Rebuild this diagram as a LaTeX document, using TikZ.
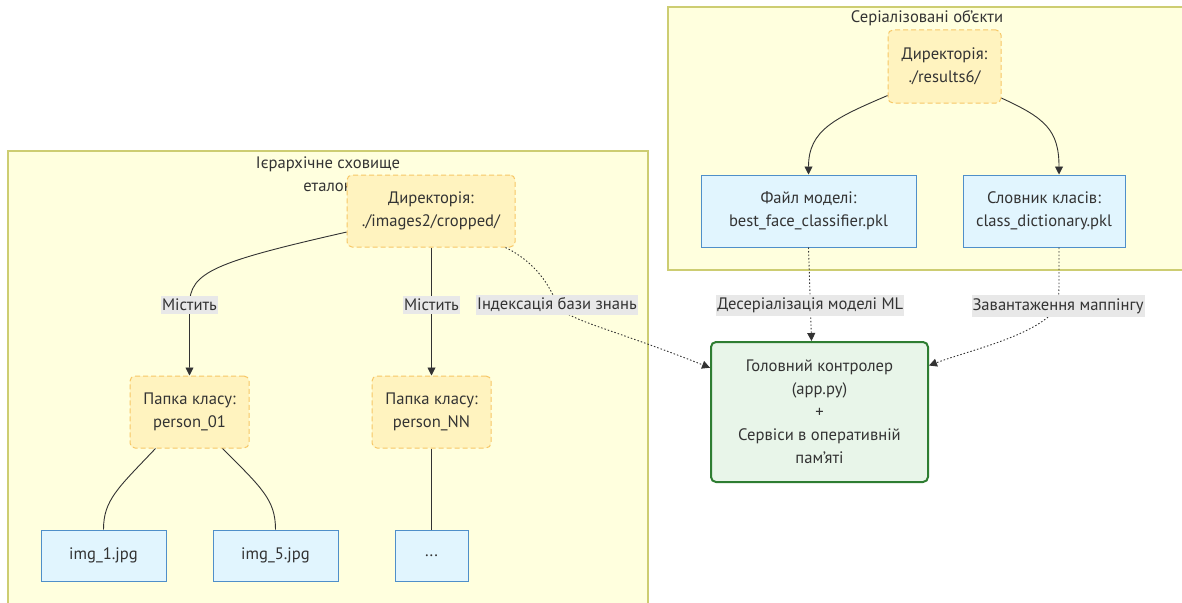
\documentclass[tikz,border=0pt]{standalone}
\usepackage{fontspec}
\setmainfont{PT Sans}
\usetikzlibrary{arrows.meta}
\definecolor{clusterfill}{HTML}{FFFFDE}
\definecolor{clusterline}{HTML}{CDCD72}
\definecolor{dirfill}{HTML}{FFF3BF}
\definecolor{dirline}{HTML}{F7C766}
\definecolor{filefill}{HTML}{E1F5FE}
\definecolor{fileline}{HTML}{4F8FC9}
\definecolor{ctrlfill}{HTML}{E8F5E9}
\definecolor{ctrlline}{HTML}{2E7D32}
\definecolor{inkgray}{HTML}{333333}
\definecolor{labelfill}{HTML}{E8E8E8}

\begin{document}
\begin{tikzpicture}[
  x=1pt,
  y=-1pt,
  font=\fontsize{16.6}{23}\selectfont,
  text=inkgray,
  cluster/.style={draw=clusterline, fill=clusterfill, line width=1.2pt},
  dirbox/.style={draw=dirline, fill=dirfill, dashed, dash pattern=on 5pt off 3pt, rounded corners=5pt, line width=1pt, align=center},
  filebox/.style={draw=fileline, fill=filefill, line width=1pt, align=center},
  ctrlbox/.style={draw=ctrlline, fill=ctrlfill, rounded corners=5pt, line width=2pt, align=center},
  link/.style={draw=inkgray, line width=0.9pt},
  arrowlink/.style={link, -{Triangle[length=8pt, width=8pt]}},
  dotlink/.style={arrowlink, dash pattern=on 1.5pt off 2pt},
  edgelabel/.style={fill=labelfill, inner xsep=1pt, inner ysep=3pt, text=inkgray}
]
\useasboundingbox (0,0) rectangle (1182,602);

% clusters
\draw[cluster] (8,151) rectangle (648,612);
\node[align=center] (lefttitle) at (328,174) {Ієрархічне сховище\\еталон};
\draw[cluster] (668,7) rectangle (1192,270);
\node (righttitle) at (927,18) {Серіалізовані об'єкти};

% left cluster nodes
\node[dirbox, minimum width=168, minimum height=72] (imgdir) at (431,211) {Директорія:\\./images2/cropped/};
\node[dirbox, minimum width=119, minimum height=72] (person01) at (189.5,412) {Папка класу:\\person\_01};
\node[dirbox, minimum width=119, minimum height=72] (personNN) at (431.5,412) {Папка класу:\\person\_NN};
\node[filebox, minimum width=125, minimum height=51] (imgone) at (103.5,555.5) {img\_1.jpg};
\node[filebox, minimum width=125, minimum height=51] (imgfive) at (275.5,555.5) {img\_5.jpg};
\node[filebox, minimum width=73, minimum height=51] (imgmore) at (431.5,555.5) {...};

% right cluster nodes
\node[dirbox, minimum width=113, minimum height=73] (resdir) at (944.5,66.5) {Директорія:\\./results6/};
\node[filebox, minimum width=215, minimum height=72] (modelfile) at (808.5,211) {Файл моделі:\\best\_face\_classifier.pkl};
\node[filebox, minimum width=162, minimum height=72] (dictfile) at (1044,211) {Словник класів:\\class\_dictionary.pkl};

% controller
\node[ctrlbox, minimum width=217, minimum height=140] (ctrl) at (819.5,412) {Головний контролер\\(app.py)\\+\\Сервіси в оперативній\\пам'яті};

% hierarchy
\draw[arrowlink] (imgdir.194) .. controls (215,262) and (189.5,272) .. (189.5,305) node[edgelabel] {Містить} -- (person01.north);
\draw[arrowlink] (imgdir.south -| personNN.north) -- node[edgelabel, pos=0.45] {Містить} (personNN.north);
\draw[link] ([xshift=-34pt]person01.south) .. controls (118,488) and (imgone.north |- 0,500) .. (imgone.north);
\draw[link] ([xshift=33pt]person01.south) .. controls (262,488) and (imgfive.north |- 0,500) .. (imgfive.north);
\draw[link] (personNN.south) -- (imgmore.north);

% serialized objects
\draw[arrowlink] (resdir.207) .. controls (835,118) and (modelfile.north |- 0,130) .. (modelfile.north);
\draw[arrowlink] (resdir.331) .. controls (1045,118) and ([xshift=15pt]dictfile.north |- 0,130) .. ([xshift=15pt]dictfile.north);

% loading into controller
\draw[dotlink] ([xshift=-10pt]imgdir.south east) .. controls (535,262) and (550,285) .. (557,305) node[edgelabel] {Індексація бази знань} .. controls (566,320) and (610,328) .. (ctrl.158);
\draw[dotlink] (modelfile.south) -- node[edgelabel, pos=0.62] {Десеріалізація моделі ML} ([xshift=-8pt]ctrl.north);
\draw[dotlink] ([xshift=15pt]dictfile.south) -- ([xshift=15pt]dictfile.south |- 0,280) .. controls ([xshift=15pt]dictfile.south |- 0,300) and (1058,300) .. (1058,306) node[edgelabel] {Завантаження маппінгу} .. controls (1040,335) and (970,350) .. (ctrl.23);

\end{tikzpicture}
\end{document}
